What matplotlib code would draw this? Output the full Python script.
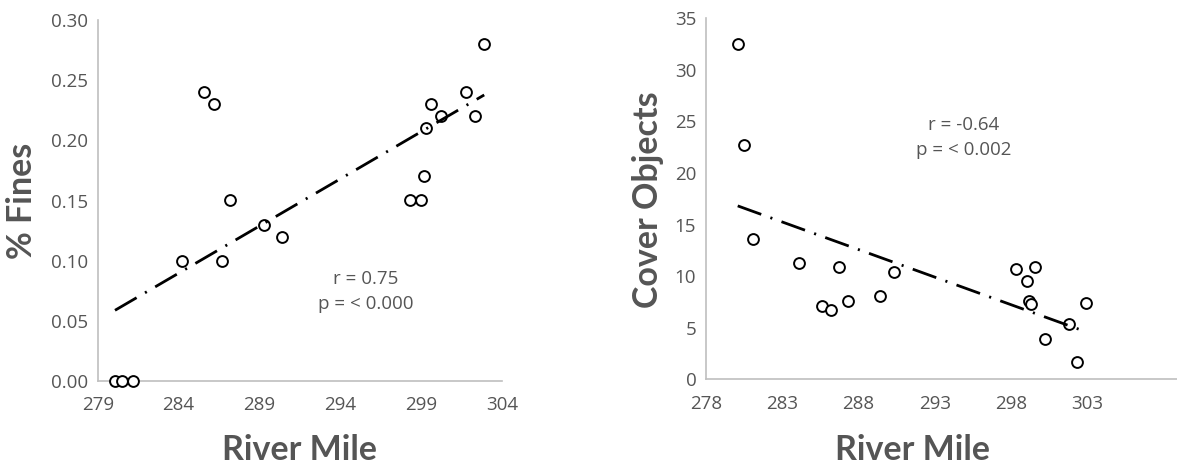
"""
River mile scatter plots with linear trend lines (% Fines, Cover Objects)
"""
import matplotlib
matplotlib.use("Agg")
import matplotlib.pyplot as plt
import numpy as np

plt.rcParams['font.family'] = ['Open Sans', 'DejaVu Sans']
plt.rcParams['lines.scale_dashes'] = False

# % Fines vs river mile
mile_fines = [280.07, 280.5, 281.2, 284.2, 285.6, 286.2, 286.7, 287.2, 289.3, 290.4,
              298.3, 299.0, 299.2, 299.3, 299.6, 300.2, 301.8, 302.3, 302.9]
fines = [0.00, 0.00, 0.00, 0.10, 0.24, 0.23, 0.10, 0.15, 0.13, 0.12,
         0.15, 0.15, 0.17, 0.21, 0.23, 0.22, 0.24, 0.22, 0.28]

# Cover objects vs river mile
mile_cover = [280.08, 280.5, 281.1, 284.1, 285.6, 286.2, 286.7, 287.3, 289.4, 290.35,
              298.3, 299.05, 299.2, 299.3, 299.6, 300.2, 301.8, 302.3, 302.9]
cover = [32.5, 22.7, 13.6, 11.3, 7.1, 6.75, 10.9, 7.6, 8.1, 10.4,
         10.65, 9.5, 7.6, 7.3, 10.85, 3.95, 5.35, 1.65, 7.4]

fines_ticks = [0.00, 0.05, 0.10, 0.15, 0.20, 0.25, 0.30]
fines_xticks = [279, 284, 289, 294, 299, 304]
cover_ticks = [0, 5, 10, 15, 20, 25, 30, 35]
cover_xticks = [278, 283, 288, 293, 298, 303]

stats_fines = ["r = 0.75", "p = < 0.000"]
stats_cover = ["r = -0.64", "p = < 0.002"]

GRAY = '#555555'
AXIS = '#bfbfbf'
FS = 13.5
W, H = 1177, 469
TITLE = dict(fontsize=24.5, fontweight='bold', color=GRAY, family=['Lato', 'DejaVu Sans'],
             ha='center', va='center')

fig = plt.figure(figsize=(W / 100, H / 100), dpi=100)
ax1 = fig.add_axes([97.7 / W, 1 - 381 / H, (502 - 97.7) / W, 361 / H])
ax2 = fig.add_axes([706 / W, 1 - 379.3 / H, (W - 706) / W, 361 / H])


def draw(ax, x, y):
    x = np.asarray(x)
    y = np.asarray(y)
    ax.plot(x, y, 'o', ms=7.8, mfc='white', mec='black', mew=1.4,
            zorder=3, clip_on=False)
    k, b = np.polyfit(x, y, 1)
    xs = np.array([x.min(), x.max()])
    ln, = ax.plot(xs, k * xs + b, color='black', lw=2.0, zorder=4)
    ln.set_dashes((18, 7, 1.5, 7))
    ln.set_dash_capstyle('butt')
    for s in ['top', 'right']:
        ax.spines[s].set_visible(False)
    for s in ['left', 'bottom']:
        ax.spines[s].set_color(AXIS)
        ax.spines[s].set_linewidth(1.2)
    ax.tick_params(length=0, labelsize=FS, labelcolor=GRAY)
    ax.tick_params(axis='x', pad=11)
    ax.tick_params(axis='y', pad=7)


draw(ax1, mile_fines, fines)
ax1.set_xlim(279, 304)
ax1.set_ylim(0, 0.30)
ax1.set_xticks(fines_xticks)
ax1.set_yticks(fines_ticks)
ax1.set_yticklabels([f"{v:.2f}" for v in fines_ticks])
ax1.text(295.6, 0.0848, stats_fines[0], ha='center', va='center', fontsize=FS, color=GRAY)
ax1.text(295.6, 0.064, stats_fines[1], ha='center', va='center', fontsize=FS, color=GRAY)

draw(ax2, mile_cover, cover)
ax2.set_xlim(278, 278 + 471 / 15.25)
ax2.set_ylim(0, 35)
ax2.set_xticks(cover_xticks)
ax2.set_yticks(cover_ticks)
ax2.text(294.9, 24.66, stats_cover[0], ha='center', va='center', fontsize=FS, color=GRAY)
ax2.text(294.9, 22.24, stats_cover[1], ha='center', va='center', fontsize=FS, color=GRAY)

# axis titles
fig.text(300 / W, 1 - 450 / H, "River Mile", **TITLE)
fig.text(912.5 / W, 1 - 450 / H, "River Mile", **TITLE)
fig.text(22 / W, 1 - 201 / H, "% Fines", rotation=90, **TITLE)
fig.text(648 / W, 1 - 200 / H, "Cover Objects", rotation=90, **TITLE)

fig.savefig("out.png", dpi=100)
